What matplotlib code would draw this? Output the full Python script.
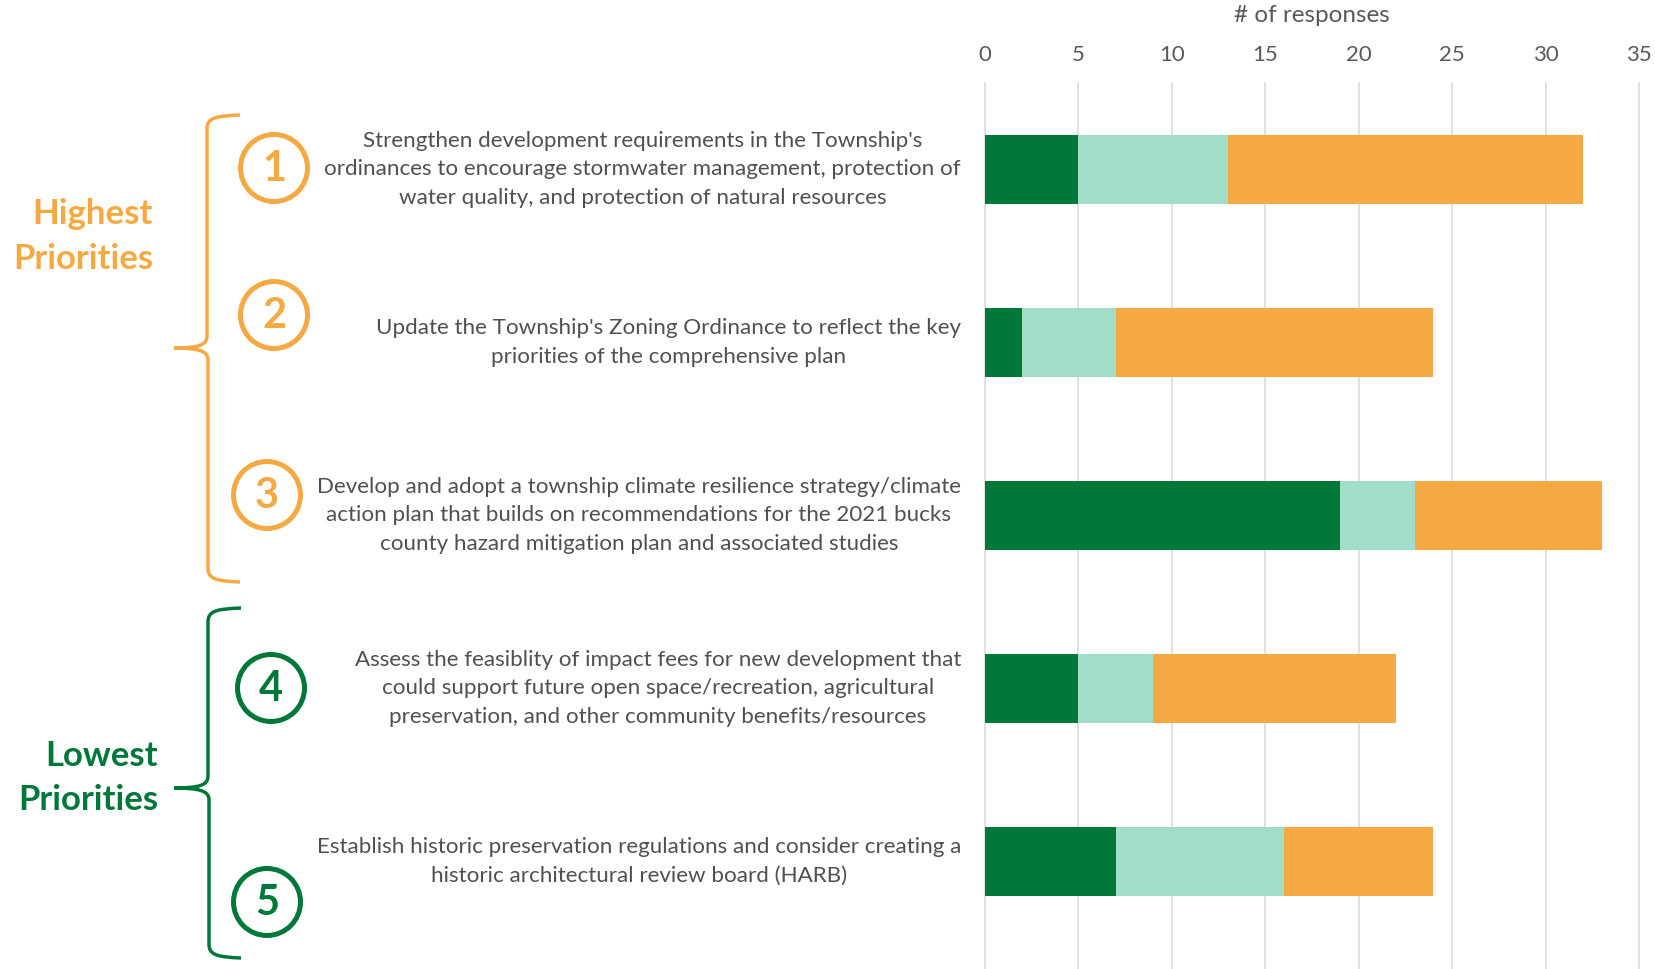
import matplotlib.pyplot as plt
from matplotlib.patches import Circle, PathPatch
from matplotlib.path import Path
from matplotlib.transforms import blended_transform_factory

plt.rcParams['font.family'] = ['Lato', 'DejaVu Sans']

# --- data ---
actions = [
    "Strengthen development requirements in the Township's\n"
    "ordinances to encourage stormwater management, protection of\n"
    "water quality, and protection of natural resources",
    "Update the Township's Zoning Ordinance to reflect the key\n"
    "priorities of the comprehensive plan",
    "Develop and adopt a township climate resilience strategy/climate\n"
    "action plan that builds on recommendations for the 2021 bucks\n"
    "county hazard mitigation plan and associated studies",
    "Assess the feasiblity of impact fees for new development that\n"
    "could support future open space/recreation, agricultural\n"
    "preservation, and other community benefits/resources",
    "Establish historic preservation regulations and consider creating a\n"
    "historic architectural review board (HARB)",
]
ranks = ["1", "2", "3", "4", "5"]
low_votes = [5, 2, 19, 5, 7]
mid_votes = [8, 5, 4, 4, 9]
high_votes = [19, 17, 10, 13, 8]
x_ticks = [0, 5, 10, 15, 20, 25, 30, 35]

GREEN = "#00783A"
TEAL = "#A1DDC9"
ORANGE = "#F5A942"
TXT = "#505050"

W, H = 1655, 969
fig = plt.figure(figsize=(W / 100, H / 100), dpi=100)

# overlay in pixel coordinates for brackets, circles and text
ov = fig.add_axes([0, 0, 1, 1])
ov.set_xlim(0, W)
ov.set_ylim(H, 0)
ov.axis("off")

# bar chart
ax = fig.add_axes([985 / W, 0, (1639 - 985) / W, (H - 83) / H])
ypos = list(range(len(actions)))
left2 = [a for a in low_votes]
left3 = [a + b for a, b in zip(low_votes, mid_votes)]
ax.barh(ypos, low_votes, height=0.4, color=GREEN, zorder=3)
ax.barh(ypos, mid_votes, left=left2, height=0.4, color=TEAL, zorder=3)
ax.barh(ypos, high_votes, left=left3, height=0.4, color=ORANGE, zorder=3)
ax.set_xlim(0, 35)
ax.set_ylim(-0.5 + (H - 83) / 173, -0.5)
ax.set_xticks(x_ticks)
ax.xaxis.tick_top()
ax.tick_params(axis="x", length=0, pad=13, labelsize=16, labelcolor="#595959")
ax.set_yticks([])
for s in ax.spines.values():
    s.set_visible(False)
ax.grid(axis="x", color="#D9D9D9", linewidth=1.1, zorder=0)
ax.patch.set_alpha(0)
for gl in ax.get_xgridlines():
    gl.set_clip_on(False)

ov.text(1312, 15, "# of responses", ha="center", va="center", fontsize=17.5, color="#595959")

# action labels: x in pixels, y in data
tr = blended_transform_factory(ov.transData, ax.transData)
for i, lab in enumerate(actions):
    ax.text(961, i, lab, transform=tr, ha="right", va="center", multialignment="center",
            fontsize=16.1, color=TXT, linespacing=1.56)

# numbered circles
circ_pos = [(274, 168), (274, 315), (267, 495), (271, 688), (267, 902)]
for (cx, cy), r in zip(circ_pos, ranks):
    col = ORANGE if int(r) <= 3 else GREEN
    ov.add_patch(Circle((cx, cy), 33.5, fill=False, edgecolor=col, linewidth=3.6))
    ov.text(cx, cy + 1, r, ha="center", va="center", fontsize=30, fontweight="bold", color=col)


def brace(x, top, bot, tip_x, tip_y, right, col):
    verts = [
        (right, top), (x + 8, top + 1), (x, top + 3), (x, top + 14),
        (x, tip_y - 12),
        (x, tip_y - 3), (x - 8, tip_y), (tip_x, tip_y),
        (x - 8, tip_y), (x + 1, tip_y + 3), (x + 1, tip_y + 12),
        (x + 1, bot - 14),
        (x + 1, bot - 3), (x + 9, bot - 1), (right, bot),
    ]
    codes = [Path.MOVETO, Path.CURVE4, Path.CURVE4, Path.CURVE4,
             Path.LINETO,
             Path.CURVE4, Path.CURVE4, Path.CURVE4,
             Path.CURVE4, Path.CURVE4, Path.CURVE4,
             Path.LINETO,
             Path.CURVE4, Path.CURVE4, Path.CURVE4]
    ov.add_patch(PathPatch(Path(verts, codes), fill=False, edgecolor=col, linewidth=2.5,
                           capstyle="butt"))


brace(207, 115, 582, 174, 348, 240, ORANGE)
brace(208, 608, 958, 174, 788, 241, GREEN)

ov.text(153, 236, "Highest\nPriorities", ha="right", va="center", multialignment="right",
        fontsize=25, fontweight="bold", color=ORANGE, linespacing=1.5)
ov.text(158, 778, "Lowest\nPriorities", ha="right", va="center", multialignment="right",
        fontsize=25, fontweight="bold", color=GREEN, linespacing=1.5)

fig.savefig("out.png", dpi=100)
